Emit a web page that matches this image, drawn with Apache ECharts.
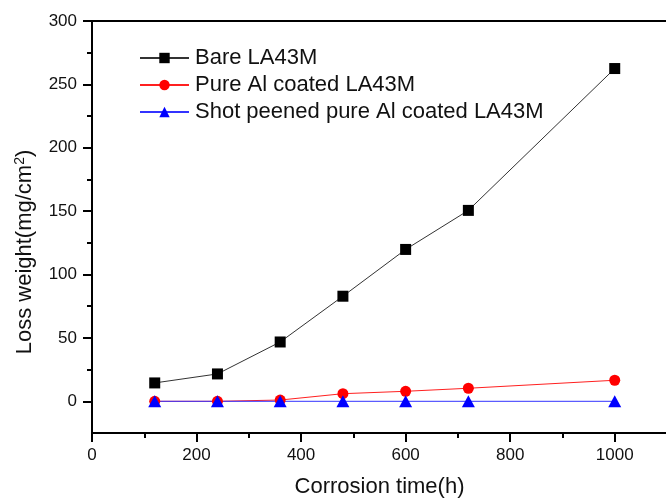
<!DOCTYPE html>
<html>
<head>
<meta charset="utf-8">
<script src="https://cdn.jsdelivr.net/npm/echarts@6/dist/echarts.min.js"></script>
<style>html,body{margin:0;padding:0;background:#fff;}#c{width:666px;height:498px;}</style>
</head>
<body>
<div id="c"></div>
<script>
var times = [120, 240, 360, 480, 600, 720, 1000];
var bare = [14.5, 21.6, 46.8, 82.9, 119.8, 150.6, 262.5];
var pureAl = [0, 0, 1, 6, 7.9, 10.3, 16.6];
var shotPeened = [0, 0, 0, 0, 0, 0, 0];
var seriesNames = ['Bare LA43M', 'Pure Al coated LA43M', 'Shot peened pure Al coated LA43M'];
var xMajorTicks = [0, 200, 400, 600, 800, 1000];
var xMinorTicks = [100, 300, 500, 700, 900];
var yMajorTicks = [0, 50, 100, 150, 200, 250, 300];
var yMinorTicks = [25, 75, 125, 175, 225, 275];

function pairs(xs, ys) { return xs.map(function (x, i) { return [x, ys[i]]; }); }

var font = 'Liberation Sans, Arial, sans-serif';
var chart = echarts.init(document.getElementById('c'), null, {renderer: 'canvas'});
var axisLine = {show: true, onZero: false, lineStyle: {color: '#000', width: 2}};
chart.setOption({
  animation: false,
  backgroundColor: '#fff',
  grid: {left: 92, top: 21, width: 575, bottom: 65, containLabel: false, outerBoundsMode: 'none'},
  legend: {
    orient: 'vertical', left: 139, top: 47, padding: 0,
    itemWidth: 49, itemHeight: 13, itemGap: 5,
    textStyle: {fontFamily: font, fontSize: 22, color: '#111', lineHeight: 20, padding: [0, 0, 0, 1]},
    data: seriesNames
  },
  xAxis: [
    {type: 'value', min: 0, max: 1100, position: 'bottom', axisLine: axisLine,
     axisTick: {show: true, customValues: xMajorTicks, length: 9, lineStyle: {color: '#000', width: 2}},
     axisLabel: {show: true, customValues: xMajorTicks, formatter: function (v) { return String(v); },
       fontFamily: font, fontSize: 17, color: '#111', margin: 14},
     splitLine: {show: false},
     name: 'Corrosion time(h)', nameLocation: 'middle', nameGap: 43,
     nameTextStyle: {fontFamily: font, fontSize: 22, color: '#111'}},
    {type: 'value', min: 0, max: 1100, position: 'bottom', axisLine: {show: false, onZero: false},
     axisTick: {show: true, customValues: xMinorTicks, length: 5, lineStyle: {color: '#000', width: 2}},
     axisLabel: {show: false}, splitLine: {show: false}},
    {type: 'value', min: 0, max: 1100, position: 'top', axisLine: axisLine,
     axisTick: {show: false}, axisLabel: {show: false}, splitLine: {show: false}}
  ],
  yAxis: [
    {type: 'value', min: -25, max: 300, position: 'left', axisLine: axisLine,
     axisTick: {show: true, customValues: yMajorTicks, length: 9, lineStyle: {color: '#000', width: 2}},
     axisLabel: {show: true, customValues: yMajorTicks, formatter: function (v) { return String(v); },
       fontFamily: font, fontSize: 17, color: '#111', margin: 15},
     splitLine: {show: false},
     name: 'Loss weight(mg/cm{sup|2})', nameLocation: 'middle', nameGap: 55,
     nameTextStyle: {fontFamily: font, fontSize: 22, color: '#111', padding: [0, 50, 0, 0],
       rich: {sup: {fontFamily: font, fontSize: 14, color: '#111', verticalAlign: 'top', padding: [0, 0, 10, 0]}}}},
    {type: 'value', min: -25, max: 300, position: 'left', axisLine: {show: false, onZero: false},
     axisTick: {show: true, customValues: yMinorTicks, length: 5, lineStyle: {color: '#000', width: 2}},
     axisLabel: {show: false}, splitLine: {show: false}}
  ],
  series: [
    {name: seriesNames[0], type: 'line', data: pairs(times, bare), xAxisIndex: 0, yAxisIndex: 0,
     symbol: 'rect', symbolSize: 11, lineStyle: {color: '#333', width: 1}, itemStyle: {color: '#000'}},
    {name: seriesNames[1], type: 'line', data: pairs(times, pureAl), xAxisIndex: 0, yAxisIndex: 0,
     symbol: 'circle', symbolSize: 11, lineStyle: {color: '#ff2020', width: 1}, itemStyle: {color: '#ff0000'}},
    {name: seriesNames[2], type: 'line', data: pairs(times, shotPeened), xAxisIndex: 0, yAxisIndex: 0,
     symbol: 'triangle', symbolSize: [13, 12], lineStyle: {color: '#3333ff', width: 1}, itemStyle: {color: '#0000ff'}}
  ]
});
</script>
</body>
</html>
